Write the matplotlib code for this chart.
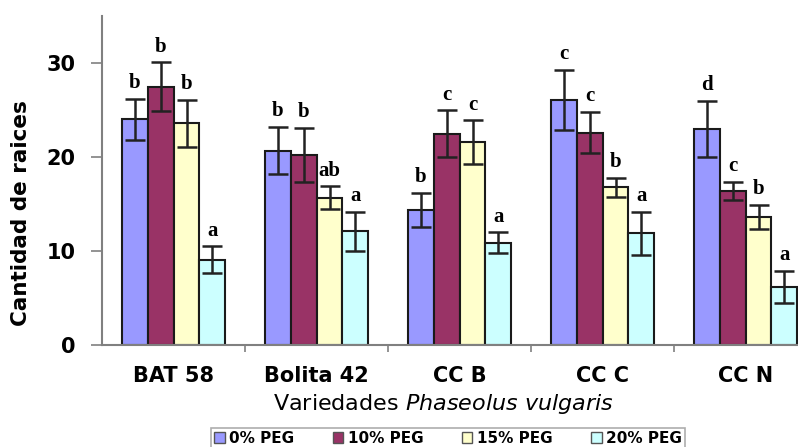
import numpy as np
import matplotlib.pyplot as plt
from matplotlib.patches import Patch

# raices por variedad y nivel de PEG
variedades = ['BAT 58', 'Bolita 42', 'CC B', 'CC C', 'CC N']
series = ['0% PEG', '10% PEG', '15% PEG', '20% PEG']

peg0 = [24.0, 20.7, 14.4, 26.1, 23.0]
peg10 = [27.5, 20.2, 22.5, 22.6, 16.4]
peg15 = [23.6, 15.7, 21.6, 16.8, 13.6]
peg20 = [9.1, 12.1, 10.9, 11.9, 6.2]

err0 = [2.2, 2.5, 1.8, 3.2, 3.0]
err10 = [2.6, 2.9, 2.5, 2.2, 1.0]
err15 = [2.5, 1.2, 2.3, 1.0, 1.3]
err20 = [1.4, 2.1, 1.1, 2.3, 1.7]

let0 = ['b', 'b', 'b', 'c', 'd']
let10 = ['b', 'b', 'c', 'c', 'c']
let15 = ['b', 'ab', 'c', 'b', 'b']
let20 = ['a', 'a', 'a', 'a', 'a']

valores = [peg0, peg10, peg15, peg20]
errores = [err0, err10, err15, err20]
letras = [let0, let10, let15, let20]
colores = ['#9999FF', '#993366', '#FFFFCC', '#CCFFFF']

fig = plt.figure(figsize=(7.98, 4.47), dpi=100)
ax = fig.add_axes([0.128, 0.228, 0.896, 0.736])

x = np.arange(len(variedades)) + 0.5
w = 0.18
for i in range(4):
    pos = x + (i - 1.5) * w
    ax.bar(pos, valores[i], w, color=colores[i], edgecolor='#1a1a1a', linewidth=1.5, zorder=2)
    ax.errorbar(pos, valores[i], yerr=errores[i], fmt='none', ecolor='#222222',
                elinewidth=1.8, capsize=7, capthick=1.8, zorder=3)
    for j in range(len(variedades)):
        ax.annotate(letras[i][j], (pos[j], valores[i][j] + errores[i][j]),
                    xytext=(0, 4), textcoords='offset points', ha='center', va='bottom',
                    fontsize=15, fontweight='bold', family='Liberation Serif')

ax.set_xlim(0, 5)
ax.set_ylim(0, 35)
ax.set_yticks([0, 10, 20, 30])
ax.set_xticks(np.arange(1, 5))
ax.set_xticklabels([])
ax.set_xticks(x, minor=True)
ax.set_xticklabels(variedades, minor=True, fontsize=15, fontweight='bold')
ax.tick_params(axis='x', which='major', length=5, color='#808080', width=1.2, direction='out')
ax.tick_params(axis='x', which='minor', length=0, pad=15)
ax.tick_params(axis='y', length=8, color='#808080', width=1.2, pad=11,
               labelsize=15)
for t in ax.get_yticklabels():
    t.set_fontweight('bold')

for s in ['top', 'right']:
    ax.spines[s].set_visible(False)
ax.spines['left'].set_color('#808080')
ax.spines['bottom'].set_color('#808080')
ax.spines['left'].set_linewidth(1.5)
ax.spines['bottom'].set_linewidth(1.5)

ax.set_ylabel('Cantidad de raices', fontsize=15.5, fontweight='bold')
ax.yaxis.set_label_coords(-0.1, 0.40)
ax.set_xlabel(r'Variedades $\it{Phaseolus\ vulgaris}$', fontsize=16, va='center')
ax.xaxis.set_label_coords(0.478, -0.18)

handles = [Patch(facecolor=c, edgecolor='#555555', linewidth=1) for c in colores]
leg = fig.legend(handles, series, ncol=4, loc='upper center',
                 bbox_to_anchor=(448 / 798, 1 - 420 / 447), frameon=True, fancybox=False,
                 edgecolor='#999999', handlelength=0.7, handleheight=0.7, handletextpad=0.3,
                 columnspacing=2.5, borderpad=0.2, prop={'weight': 'bold', 'size': 11})
leg.get_frame().set_linewidth(1.2)

fig.savefig('out.png', dpi=100)
